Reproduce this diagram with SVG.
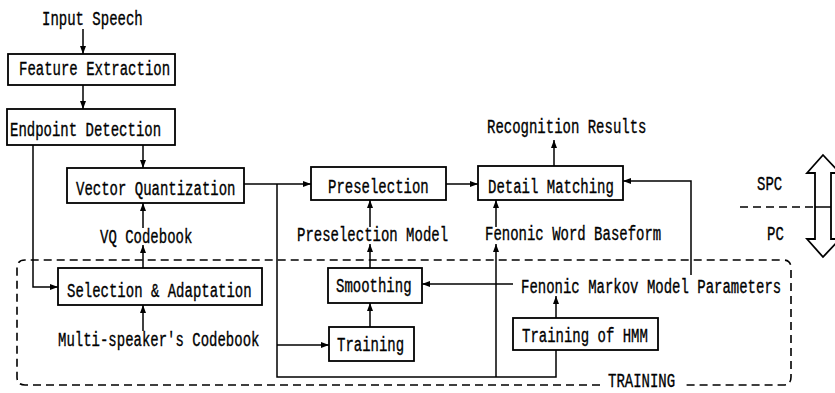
<svg xmlns="http://www.w3.org/2000/svg" width="835" height="393" viewBox="0 0 835 393">
<defs>
<marker id="ah" viewBox="0 0 8 6" refX="8" refY="3" markerWidth="8" markerHeight="6" markerUnits="userSpaceOnUse" orient="auto">
<path d="M0,0 L8,3 L0,6 Z" fill="#000"/>
</marker>
<style>
.box{fill:#fff;stroke:#000;stroke-width:1.8}
.ln{fill:none;stroke:#000;stroke-width:1.5}
.ar{fill:none;stroke:#000;stroke-width:1.5;marker-end:url(#ah)}
.ds{fill:none;stroke:#000;stroke-width:1.6;stroke-dasharray:8 5}
.t{font-family:"Liberation Mono","DejaVu Sans Mono",monospace;font-size:14px;fill:#000;stroke:#000;stroke-width:0.25}
</style>
</defs>
<rect width="835" height="393" fill="#fff"/>

<g id="training-region">
<path class="ds" d="M600,385 H25 Q17,385 17,377 V268 Q17,260 25,260 H783 Q791,260 791,268 V377 Q791,385 783,385 H682"/>
<text class="t" transform="translate(608,387) scale(1,1.4)">TRAINING</text>
</g>

<g id="connectors">
<path class="ar" d="M83,29 V54"/>
<path class="ar" d="M83,85 V109"/>
<path class="ar" d="M143,145 V168"/>
<path class="ar" d="M33,145 V287 H58"/>
<path class="ar" d="M143,268 V245"/>
<path class="ar" d="M143,228 V203"/>
<path class="ar" d="M143,331 V305"/>
<path class="ar" d="M244,184 H311"/>
<path class="ln" d="M277,184 V377 H556 V350"/>
<path class="ar" d="M277,345 H329"/>
<path class="ar" d="M496,377 V244"/>
<path class="ar" d="M496,227 V200"/>
<path class="ar" d="M370,327 V303"/>
<path class="ar" d="M370,268 V244"/>
<path class="ar" d="M370,227 V200"/>
<path class="ar" d="M513,284 H422"/>
<path class="ar" d="M556,318 V296"/>
<path class="ar" d="M691,275 V181 H623"/>
<path class="ar" d="M446,184 H478"/>
<path class="ar" d="M554,166 V140"/>
<path class="ds" d="M740,207 H815"/>
</g>

<g id="input-speech"><text class="t" transform="translate(42,25) scale(1,1.5)">Input Speech</text></g>
<g id="feature-extraction"><rect class="box" x="8" y="54" width="167" height="31"/><text class="t" transform="translate(19,75) scale(1,1.5)">Feature Extraction</text></g>
<g id="endpoint-detection"><rect class="box" x="7" y="109" width="168" height="36"/><text class="t" transform="translate(10,136) scale(1,1.5)">Endpoint Detection</text></g>
<g id="vector-quantization"><rect class="box" x="67" y="168" width="177" height="35"/><text class="t" transform="translate(76,195) scale(1,1.5)">Vector Quantization</text></g>
<g id="vq-codebook"><text class="t" transform="translate(100,243) scale(1,1.5)">VQ Codebook</text></g>
<g id="selection-adaptation"><rect class="box" x="58" y="268" width="204" height="37"/><text class="t" transform="translate(67,297) scale(1,1.5)">Selection &amp; Adaptation</text></g>
<g id="multi-speaker-codebook"><text class="t" transform="translate(58,346) scale(1,1.5)">Multi-speaker's Codebook</text></g>
<g id="preselection"><rect class="box" x="311" y="167" width="135" height="33"/><text class="t" transform="translate(328,193) scale(1,1.5)">Preselection</text></g>
<g id="detail-matching"><rect class="box" x="478" y="166" width="145" height="34"/><text class="t" transform="translate(488,193) scale(1,1.5)">Detail Matching</text></g>
<g id="recognition-results"><text class="t" transform="translate(487,133) scale(1,1.5)">Recognition Results</text></g>
<g id="preselection-model"><text class="t" transform="translate(297,241) scale(1,1.5)">Preselection Model</text></g>
<g id="fenonic-word-baseform"><text class="t" transform="translate(485,240) scale(1,1.5)">Fenonic Word Baseform</text></g>
<g id="smoothing"><rect class="box" x="328" y="268" width="94" height="35"/><text class="t" transform="translate(336,292) scale(1,1.5)">Smoothing</text></g>
<g id="training"><rect class="box" x="329" y="327" width="85" height="34"/><text class="t" transform="translate(337,351) scale(1,1.5)">Training</text></g>
<g id="fenonic-markov-parameters"><text class="t" transform="translate(521,293) scale(1,1.5)">Fenonic Markov Model Parameters</text></g>
<g id="training-hmm"><rect class="box" x="513" y="318" width="145" height="32"/><text class="t" transform="translate(522,342) scale(1,1.5)">Training of HMM</text></g>
<g id="spc-pc">
<text class="t" transform="translate(757,190) scale(1,1.5)">SPC</text>
<text class="t" transform="translate(767,240) scale(1,1.5)">PC</text>
<path d="M823,155 L840,173 H831 V239 H840 L823,257 L807,239 H815 V173 H807 Z" fill="#fff" stroke="#000" stroke-width="1.8"/>
<path class="ln" d="M815,207 H831"/>
</g>
</svg>
